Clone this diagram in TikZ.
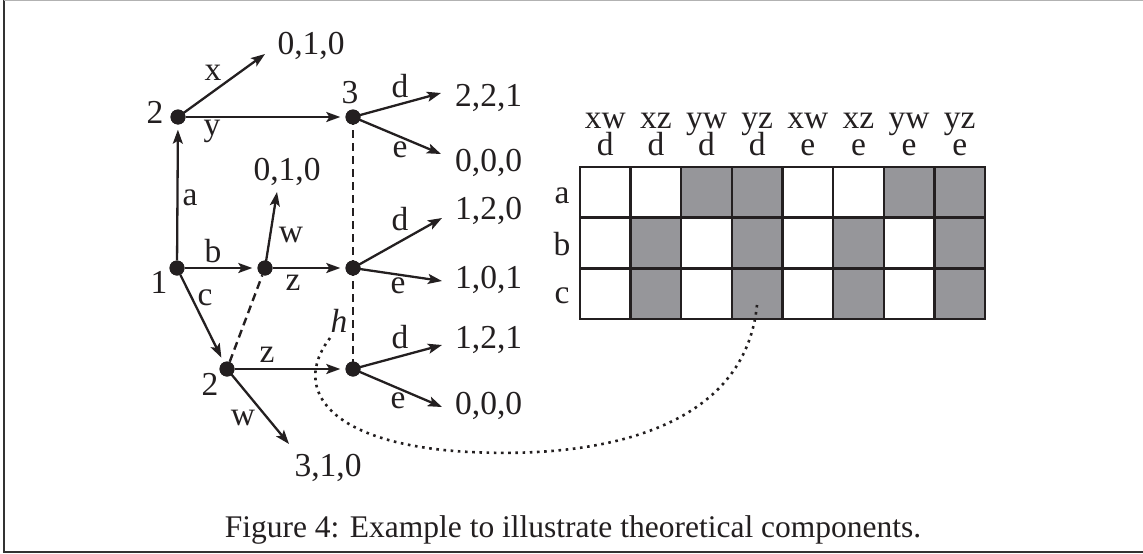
\documentclass[tikz,border=0pt]{standalone}
\usepackage{fontspec}
\setmainfont{Liberation Serif}
\usetikzlibrary{arrows.meta}
\definecolor{cellgray}{RGB}{150,150,154}
\definecolor{ink}{RGB}{35,31,32}
\begin{document}
\begin{tikzpicture}[x=1pt,y=-1pt,
  dotn/.style={circle,fill=ink,inner sep=0pt,minimum size=15pt},
  arr/.style={draw=ink,line width=2.3pt,-{Stealth[length=14pt,width=10pt,inset=3pt]}},
  mv/.style={arr,shorten >=5pt},
  lab/.style={anchor=base,inner sep=0pt,text=ink,font=\fontsize{33.5}{38}\selectfont},
  pay/.style={anchor=base west,inner sep=0pt,text=ink,font=\fontsize{33.5}{38}\selectfont},
  dsh/.style={draw=ink,line width=2.4pt,dash pattern=on 8pt off 5pt},
  dotline/.style={draw=ink,line width=2.6pt,dash pattern=on 2.6pt off 4.6pt},
  gridline/.style={draw=ink,line width=2.4pt},
]
\useasboundingbox (0,0) rectangle (1143,554);
% frame
\draw[line width=1.6pt,black!80] (4,0) -- (4,552) -- (1143,552);
\draw[line width=1.2pt,black!30] (4,0.6) -- (1143,0.6);

% decision nodes
\node[dotn] (n1) at (177,268) {};
\node[dotn] (n2) at (178,117) {};
\node[dotn] (n3) at (353,117) {};
\node[dotn] (nb) at (265,268) {};
\node[dotn] (nm) at (353,268) {};
\node[dotn] (nc) at (227,369) {};
\node[dotn] (nl) at (353,369) {};

% arrow end points
\coordinate (tx) at (265,54);
\coordinate (td1) at (441,93);
\coordinate (te1) at (441,154);
\coordinate (tw1) at (277,192);
\coordinate (td2) at (442,218);
\coordinate (te2) at (442,281);
\coordinate (td3) at (442,345);
\coordinate (te3) at (442,407);
\coordinate (tw2) at (289,444);

% information set lines
\draw[dsh] (n3.center) -- (nm.center);
\draw[dsh] (nm.center) -- (nl.center);
\draw[dsh] (nc) -- (nb);

% moves
\draw[mv] (n1) -- (n2);
\draw[mv] (n1) -- (nb);
\draw[mv] (n1) -- (nc);
\draw[mv] (n2) -- (n3);
\draw[arr] (n2.center) -- (tx);
\draw[arr] (n3.center) -- (td1);
\draw[arr] (n3.center) -- (te1);
\draw[arr] (nb.center) -- (tw1);
\draw[mv] (nb) -- (nm);
\draw[arr] (nm.center) -- (td2);
\draw[arr] (nm.center) -- (te2);
\draw[mv] (nc) -- (nl);
\draw[arr] (nc.center) -- (tw2);
\draw[arr] (nl.center) -- (td3);
\draw[arr] (nl.center) -- (te3);

% redraw dots on top
\foreach \n in {n1,n2,n3,nb,nm,nc,nl} \fill[ink] (\n) circle (7.5pt);

% player labels
\node[lab] (l1) at (159,293) {1};
\node[lab] (l2) at (155,123) {2};
\node[lab] (l3) at (350,103) {3};
\node[lab] (l2b) at (210,395) {2};

% move labels
\node[lab] (mx) at (213,80) {x};
\node[lab] (my) at (212,135) {y};
\node[lab] (md1) at (400,97) {d};
\node[lab] (me1) at (400,157) {e};
\node[lab] (ma) at (190,205) {a};
\node[lab] (mb) at (213,262) {b};
\node[lab] (mw1) at (291,242) {w};
\node[lab] (mz1) at (293,290) {z};
\node[lab] (md2) at (400,230) {d};
\node[lab] (me2) at (398,293) {e};
\node[lab] (mc) at (205,305) {c};
\node[lab] (mz2) at (267,362) {z};
\node[lab] (md3) at (400,348) {d};
\node[lab] (me3) at (398,408) {e};
\node[lab] (mw2) at (243,425) {w};
\node[lab] (hh) at (339,332) {\textit{h}};

% payoffs
\node[lab] (p010a) at (311,54) {0,1,0};
\node[lab] (p010b) at (287,180) {0,1,0};
\node[lab] (p310) at (328,476) {3,1,0};
\node[pay] (p221) at (455,106) {2,2,1};
\node[pay] (p000a) at (455,171) {0,0,0};
\node[pay] (p120) at (455,219) {1,2,0};
\node[pay] (p101) at (455,288) {1,0,1};
\node[pay] (p121) at (455,348) {1,2,1};
\node[pay] (p000b) at (455,414) {0,0,0};

% table
\foreach \r/\c in {0/2,0/3,0/6,0/7,1/1,1/3,1/5,1/7,2/1,2/3,2/5,2/7}
  \fill[cellgray] (580+50.625*\c,167+50.667*\r) rectangle ++(50.625,50.667);
\foreach \i in {1,...,7} \draw[gridline] (580+50.625*\i,167) -- (580+50.625*\i,319);
\foreach \j in {1,2} \draw[gridline] (580,167+50.667*\j) -- (985,167+50.667*\j);
\draw[gridline] (580,167) rectangle (985,319);
\foreach \t/\u [count=\i from 0] in {xw/d,xz/d,yw/d,yz/d,xw/e,xz/e,yw/e,yz/e} {
  \node[lab] (ch\i) at (605.3+50.625*\i,128) {\t};
  \node[lab] (cs\i) at (605.3+50.625*\i,155) {\u};
}
\node[lab] (ra) at (562,203) {a};
\node[lab] (rb) at (562,255) {b};
\node[lab] (rc) at (562,303) {c};

% dotted link
\coordinate (hs) at (330,338);
\coordinate (hm) at (470,452);
\coordinate (he) at (757,305);
\draw[dotline] (hs) .. controls (290,390) and (330,445) .. (hm)
  .. controls (610,459) and (745,425) .. (he);

% caption
\node[anchor=base,inner sep=0pt,text=ink,font=\fontsize{31.5}{38}\selectfont] (cap) at (573,537)
  {Figure 4: Example to illustrate theoretical components.};
\end{tikzpicture}
\end{document}
